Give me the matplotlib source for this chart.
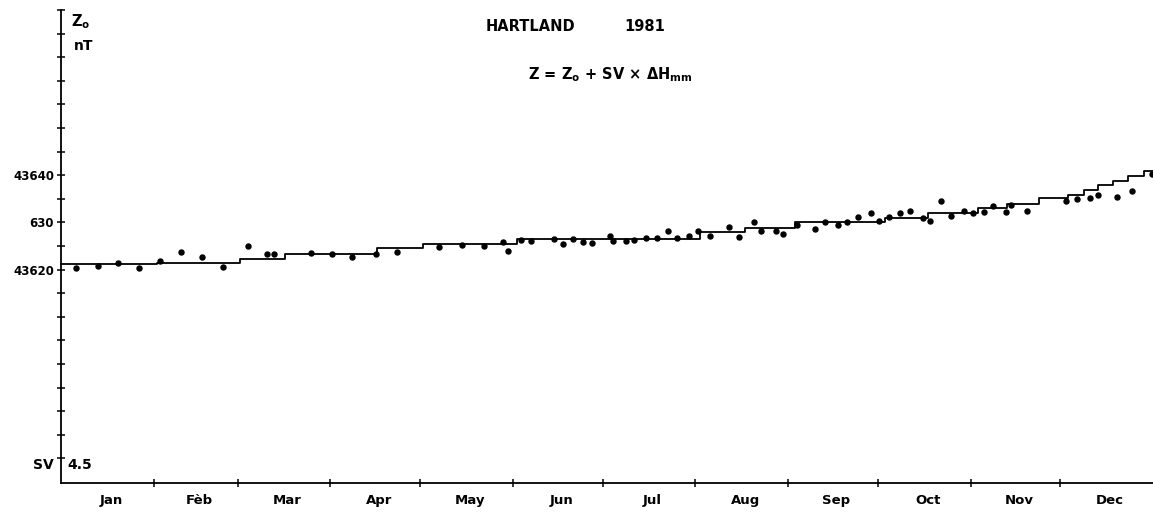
import matplotlib
matplotlib.use('Agg')
import matplotlib.pyplot as plt
import numpy as np

# ─── Data (day of year, nT) ──────────────────────────────────────────────────
obs_day = [5.0, 12.3, 19.2, 26.2, 33.1, 40.1, 47.0, 54.2, 62.4, 68.8, 71.2,
           83.6, 90.5, 97.2, 105.3, 112.4, 126.3, 133.9, 141.5, 147.8, 149.5,
           153.6, 157.0, 164.8, 167.9, 171.0, 174.4, 177.6, 183.5, 184.6,
           188.7, 191.5, 195.5, 199.1, 203.0, 206.0, 210.0, 213.0, 216.9,
           223.4, 226.7, 231.7, 233.9, 239.0, 241.2, 245.9, 252.0, 255.4,
           259.6, 262.6, 266.3, 270.6, 273.5, 276.8, 280.4, 283.8, 288.0,
           290.4, 294.3, 297.5, 301.8, 304.7, 308.5, 311.6, 315.7, 317.7,
           322.8, 335.8, 339.7, 343.9, 346.5, 352.8, 358.1, 364.5]
obs_z = [43620.3, 43620.7, 43621.3, 43620.3, 43621.9, 43623.7, 43622.6,
         43620.6, 43625.1, 43623.4, 43623.4, 43623.5, 43623.4, 43622.7,
         43623.2, 43623.7, 43624.7, 43625.2, 43625.0, 43625.8, 43623.9,
         43626.2, 43626.1, 43626.4, 43625.4, 43626.4, 43625.8, 43625.6,
         43627.2, 43626.0, 43626.0, 43626.3, 43626.7, 43626.8, 43628.2,
         43626.8, 43627.2, 43628.2, 43627.2, 43629.1, 43626.9, 43630.0,
         43628.2, 43628.2, 43627.5, 43629.5, 43628.6, 43630.0, 43629.5,
         43630.0, 43631.2, 43631.9, 43630.4, 43631.1, 43632.0, 43632.4,
         43630.9, 43630.4, 43634.6, 43631.4, 43632.4, 43631.9, 43632.3,
         43633.5, 43632.3, 43633.7, 43632.5, 43634.6, 43634.9, 43635.1,
         43635.9, 43635.4, 43636.7, 43640.3]

# Zo baseline steps (start day, value)
step_day = [0, 32, 59.8, 74.9, 105.5, 121.1, 152.3, 213.6, 228.6, 245.3,
            275.4, 289.9, 306.6, 316.1, 327.0, 336.7, 342.0, 346.7, 351.7,
            356.7, 362.0, 365]
step_z = [43621.2, 43621.4, 43622.3, 43623.3, 43624.5, 43625.5, 43626.5,
          43627.9, 43628.9, 43630.0, 43630.9, 43631.9, 43633.0, 43633.9,
          43635.1, 43635.9, 43636.8, 43637.9, 43638.7, 43639.9, 43640.8,
          43640.8]

months = ['Jan', 'Fèb', 'Mar', 'Apr', 'May', 'Jun', 'Jul', 'Aug', 'Sep',
          'Oct', 'Nov', 'Dec']
month_len = [31, 28, 31, 30, 31, 30, 31, 31, 30, 31, 30, 31]

# ─── Canvas ──────────────────────────────────────────────────────────────────
W, H, DPI = 1153, 512, 100
plt.rcParams['font.family'] = ['DejaVu Sans']
plt.rcParams['font.weight'] = 'bold'
plt.rcParams['mathtext.default'] = 'regular'

fig = plt.figure(figsize=(W / DPI, H / DPI), dpi=DPI, facecolor='white')
ax = fig.add_axes([61 / W, 1 - 483.3 / H, 1 - 61 / W, (483.3 - 10) / H])

Y_TOP = 43675
Y_BOT = Y_TOP - 473.3 / 4.72
ax.set_xlim(0, 365)
ax.set_ylim(Y_BOT, Y_TOP)

ax.step(step_day, step_z, where='post', color='black', lw=1.3, zorder=3,
        clip_on=False)
ax.plot(obs_day, obs_z, 'o', color='black', ms=3.6, zorder=4, clip_on=False)

# ─── Axes styling ────────────────────────────────────────────────────────────
for s in ['top', 'right']:
    ax.spines[s].set_visible(False)
for s in ['left', 'bottom']:
    ax.spines[s].set_linewidth(1.3)

bounds = np.cumsum(month_len)
centers = bounds - np.array(month_len) / 2 + 1.2
ax.set_xticks(bounds[:-1])
ax.set_xticklabels([])
ax.set_xticks(centers, minor=True)
ax.set_xticklabels(months, minor=True, fontsize=9.5, fontweight='bold')
ax.tick_params(axis='x', which='major', direction='inout', length=6, width=1.1)
ax.tick_params(axis='x', which='minor', length=0, pad=8)

yt = np.arange(43580, 43676, 5)
ax.set_yticks(yt)
ylab = {43640: '43640', 43630: '630', 43620: '43620'}
ax.set_yticklabels([ylab.get(int(v), '') for v in yt], fontsize=8.5,
                   fontweight='bold')
ax.tick_params(axis='y', direction='inout', length=6, width=1.1, pad=2)

# ─── Annotations ─────────────────────────────────────────────────────────────
ax.text(3.5, 43672.5, r'Z$_\mathrm{o}$', fontsize=10.5, ha='left',
        va='center')
ax.text(4.2, 43667.3, 'nT', fontsize=10, ha='left', va='center')
ax.text(157, 43671.5, 'HARTLAND', fontsize=10.5, ha='center', va='center')
ax.text(195, 43671.5, '1981', fontsize=10.5, ha='center', va='center')
ax.text(183.5, 43661.2,
        r'Z = Z$_\mathrm{o}$ + SV $\times$ $\Delta$H$_\mathrm{mm}$',
        fontsize=10.5, ha='center', va='center')
ax.text(-2.5, 43578.6, 'SV', fontsize=10, ha='right', va='center',
        clip_on=False)
ax.text(2.2, 43578.6, '4.5', fontsize=10, ha='left', va='center')

fig.savefig('out.png', dpi=DPI, facecolor='white')
